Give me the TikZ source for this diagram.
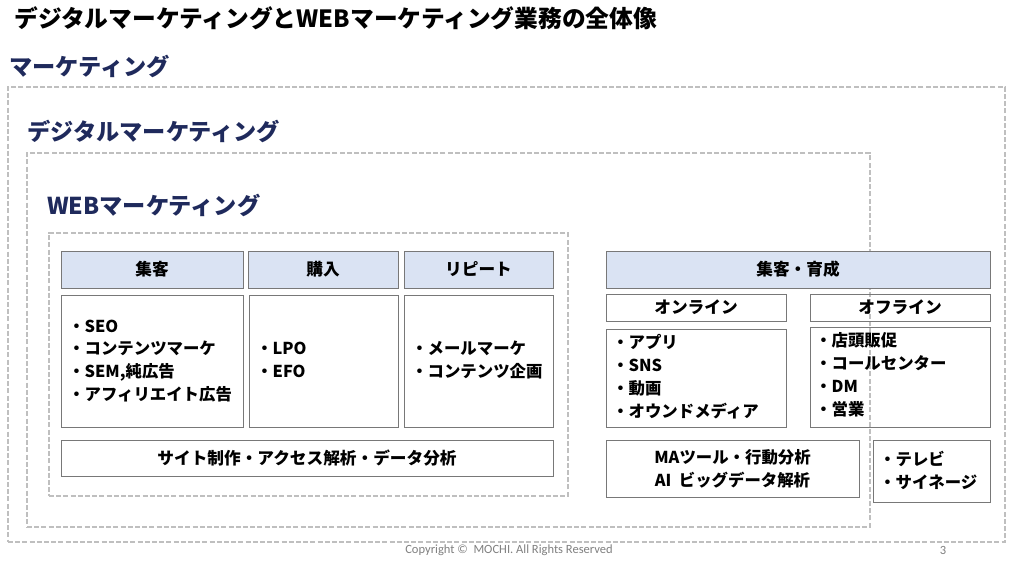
\documentclass[tikz,border=0pt]{standalone}
\usepackage{fontspec}
\setmainfont{Noto Sans CJK JP}
\newfontfamily\copyfont{Carlito}
\usetikzlibrary{fit}
\definecolor{navy}{RGB}{31,42,92}
\definecolor{dashgray}{RGB}{191,191,191}
\definecolor{boxgray}{RGB}{120,120,120}
\definecolor{headblue}{RGB}{218,227,243}
\begin{document}
\begin{tikzpicture}[x=0.75pt,y=-0.75pt,
  area/.style={draw=dashgray,line width=1.2pt,dash pattern=on 3.8pt off 1.6pt,inner sep=0pt},
  arealabel/.style={anchor=west,inner sep=0pt,text=navy,font=\fontsize{17.4}{20}\selectfont\bfseries},
  box/.style={draw=boxgray,line width=0.7pt,inner sep=0pt},
  head/.style={box,fill=headblue},
  headtext/.style={inner sep=0pt,font=\fontsize{12.5}{15}\selectfont\bfseries},
  listtext/.style={anchor=west,inner sep=0pt,align=left,font=\fontsize{12.3}{17.2}\selectfont\bfseries},
  centertext/.style={inner sep=0pt,align=center,font=\fontsize{12.3}{17.2}\selectfont\bfseries}]
\useasboundingbox[fill=white] (0,0) rectangle (1024,576);

% title
\node[anchor=west,inner sep=0pt,font=\fontsize{17.8}{20}\selectfont\bfseries] (title) at (14,18) {デジタルマーケティングとWEBマーケティング業務の全体像};

% nested areas
\node[arealabel] (mklabel) at (9,66) {マーケティング};
\node[area,fit={(8,87) (1005,542)}] (mkarea) {};
\node[arealabel] (dglabel) at (27,131) {デジタルマーケティング};
\node[area,fit={(27,153) (870,527)}] (dgarea) {};
\node[arealabel] (weblabel) at (47,205) {WEBマーケティング};
\node[area,fit={(49,233) (568,496)}] (webarea) {};

% WEB marketing headers
\node[head,fit={(61,251) (243,288)}] (h1) {};
\node[headtext] (h1t) at (h1.center) {集客};
\node[head,fit={(248,251) (398,288)}] (h2) {};
\node[headtext] (h2t) at (h2.center) {購入};
\node[head,fit={(404,251) (553,288)}] (h3) {};
\node[headtext] (h3t) at (h3.center) {リピート};

% WEB content
\node[box,fit={(61,295) (243,427)}] (c1) {};
\node[listtext] (t1) at (68,361) {・SEO\\・コンテンツマーケ\\・SEM,純広告\\・アフィリエイト広告};
\node[box,fit={(249,295) (398,427)}] (c2) {};
\node[listtext] (t2) at (256,360) {・LPO\\・EFO};
\node[box,fit={(404,295) (553,427)}] (c3) {};
\node[listtext] (t3) at (411,360) {・メールマーケ\\・コンテンツ企画};
\node[box,fit={(61,440) (553,476)}] (site) {};
\node[headtext] (sitet) at (site.center) {サイト制作・アクセス解析・データ分析};

% right side
\node[head,fit={(606,251) (990,288)}] (h4) {};
\node[headtext] (h4t) at (h4.center) {集客・育成};
\node[box,fit={(606,294) (786,321)}] (on) {};
\node[headtext] (ont) at (on.center) {オンライン};
\node[box,fit={(810,294) (990,321)}] (off) {};
\node[headtext] (offt) at (off.center) {オフライン};
\node[box,fit={(606,329) (786,427)}] (c4) {};
\node[listtext] (t4) at (612,377) {・アプリ\\・SNS\\・動画\\・オウンドメディア};
\node[box,fit={(810,327) (990,427)}] (c5) {};
\node[listtext] (t5) at (815,375) {・店頭販促\\・コールセンター\\・DM\\・営業};
\node[box,fit={(606,440) (859,497)}] (ma) {};
\node[centertext] (tma) at (ma.center) {MAツール・行動分析\\AI\ \ ビッグデータ解析};
\node[box,fit={(873,440) (990,502)}] (tv) {};
\node[listtext] (ttv) at (879,470) {・テレビ\\・サイネージ};

% footer
\node[anchor=west,inner sep=0pt,text=gray,font=\copyfont\fontsize{9.4}{11}\selectfont] (copy) at (405,550) {Copyright ©\ \ MOCHI. All Rights Reserved};
\node[inner sep=0pt,text=gray,font=\copyfont\fontsize{9.4}{11}\selectfont] (page) at (943,550) {3};
\end{tikzpicture}
\end{document}
